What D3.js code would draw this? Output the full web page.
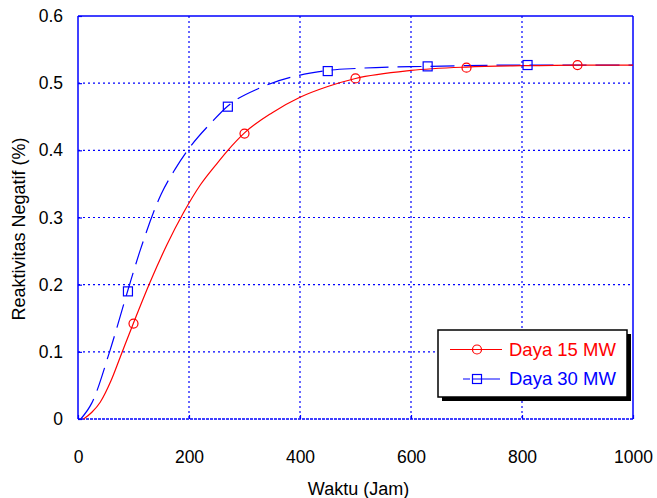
<!DOCTYPE html>
<html>
<head>
<meta charset="utf-8">
<script src="https://cdn.jsdelivr.net/npm/d3@7"></script>
<style>
  body { margin: 0; background: #fff; }
  text { font-family: Arial, "Liberation Sans", sans-serif; }
</style>
</head>
<body>
<script>
// values
var xTicks = [0, 200, 400, 600, 800, 1000];
var yTicks = [0, 0.1, 0.2, 0.3, 0.4, 0.5, 0.6];

// Daya 15 MW (red, solid)
var red15Jam = [10, 25, 40, 60, 76, 100, 130, 160, 190, 220, 250, 270, 300, 350, 400, 450, 500, 600, 700, 800, 900, 1000];
var red15Val = [0, 0.01, 0.025, 0.058, 0.092, 0.143, 0.204, 0.259, 0.307, 0.348, 0.38, 0.400, 0.426, 0.456, 0.479, 0.495, 0.507, 0.519, 0.524, 0.526, 0.527, 0.527];
var red15MarkJam = [100, 300, 500, 700, 900];
var red15MarkVal = [0.142, 0.425, 0.507, 0.523, 0.527];

// Daya 30 MW (blue, dashed)
var blue30Jam = [5, 25, 58, 90, 112, 150, 175, 202, 241, 270, 328, 418, 450, 503, 630, 810, 1000];
var blue30Val = [0, 0.024, 0.103, 0.192, 0.251, 0.335, 0.372, 0.405, 0.442, 0.466, 0.493, 0.515, 0.519, 0.522, 0.525, 0.527, 0.527];
var blue30MarkJam = [90, 270, 450, 630, 810];
var blue30MarkVal = [0.19, 0.465, 0.518, 0.525, 0.527];

var margin = {left: 78, top: 16, right: 24, bottom: 79};
var W = 657, H = 498;
var width = W - margin.left - margin.right,
    height = H - margin.top - margin.bottom;

var x = d3.scaleLinear().domain([0, 1000]).range([0, width]);
var y = d3.scaleLinear().domain([0, 0.6]).range([height, 0]);

var svg = d3.select("body").append("svg")
  .attr("width", W)
  .attr("height", H);

var g = svg.append("g")
  .attr("transform", "translate(" + margin.left + "," + margin.top + ")");

// grid
g.append("g").selectAll("line")
  .data(xTicks.slice(1, -1))
  .enter().append("line")
  .attr("x1", function (d) { return x(d); })
  .attr("x2", function (d) { return x(d); })
  .attr("y1", 0).attr("y2", height)
  .attr("stroke", "#0000ff").attr("stroke-width", 1.2)
  .attr("stroke-dasharray", "2,3");

g.append("g").selectAll("line")
  .data(yTicks.slice(1, -1))
  .enter().append("line")
  .attr("y1", function (d) { return y(d); })
  .attr("y2", function (d) { return y(d); })
  .attr("x1", 0).attr("x2", width)
  .attr("stroke", "#0000ff").attr("stroke-width", 1.2)
  .attr("stroke-dasharray", "2,3");

// axes (inner ticks, blue)
var xAxis = g.append("g")
  .attr("transform", "translate(0," + height + ")")
  .call(d3.axisBottom(x).tickValues(xTicks).tickSize(-4).tickPadding(32).tickFormat(d3.format("d")));
var yAxis = g.append("g")
  .call(d3.axisLeft(y).tickValues(yTicks).tickSize(-4).tickPadding(15).tickFormat(function (d) { return d === 0 ? "0" : d3.format(".1f")(d); }));

[xAxis, yAxis].forEach(function (a) {
  a.select(".domain").remove();
  a.selectAll(".tick line").attr("stroke", "#0000ff").attr("stroke-width", 1.2);
  a.selectAll(".tick text").attr("fill", "#000").style("font-size", "17.5px")
    .style("font-family", "Arial, 'Liberation Sans', sans-serif");
});

// frame
g.append("line").attr("x1", 0).attr("x2", 0).attr("y1", 0).attr("y2", height)
  .attr("stroke", "#0000ff").attr("stroke-width", 1.5);
g.append("line").attr("x1", 0).attr("x2", width).attr("y1", 0).attr("y2", 0)
  .attr("stroke", "#0000ff").attr("stroke-width", 1.5);
g.append("line").attr("x1", width).attr("x2", width).attr("y1", 0).attr("y2", height)
  .attr("stroke", "#0000ff").attr("stroke-width", 1.5);
g.append("line").attr("x1", 0).attr("x2", width).attr("y1", height).attr("y2", height)
  .attr("stroke", "#0000ff").attr("stroke-width", 1.5).attr("stroke-dasharray", "3,1");

// curves
var line = d3.line()
  .x(function (d) { return x(d[0]); })
  .y(function (d) { return y(d[1]); })
  .curve(d3.curveMonotoneX);

var redData = d3.zip(red15Jam, red15Val);
var blueData = d3.zip(blue30Jam, blue30Val);

g.append("path")
  .datum(blueData)
  .attr("d", line)
  .attr("fill", "none")
  .attr("stroke", "#0000ff")
  .attr("stroke-width", 1.2)
  .attr("stroke-dasharray", "24,9");

g.append("path")
  .datum(redData)
  .attr("d", line)
  .attr("fill", "none")
  .attr("stroke", "#ff0000")
  .attr("stroke-width", 1.2);

// markers
g.selectAll(".mk-red")
  .data(d3.zip(red15MarkJam, red15MarkVal))
  .enter().append("circle")
  .attr("class", "mk-red")
  .attr("cx", function (d) { return x(d[0]); })
  .attr("cy", function (d) { return y(d[1]); })
  .attr("r", 4.5)
  .attr("fill", "none")
  .attr("stroke", "#ff0000")
  .attr("stroke-width", 1.2);

g.selectAll(".mk-blue")
  .data(d3.zip(blue30MarkJam, blue30MarkVal))
  .enter().append("rect")
  .attr("class", "mk-blue")
  .attr("x", function (d) { return x(d[0]) - 4.5; })
  .attr("y", function (d) { return y(d[1]) - 4.5; })
  .attr("width", 9)
  .attr("height", 9)
  .attr("fill", "none")
  .attr("stroke", "#0000ff")
  .attr("stroke-width", 1.2);

// axis titles
svg.append("text")
  .attr("x", margin.left + width / 2 + 3)
  .attr("y", 495)
  .attr("text-anchor", "middle")
  .style("font-size", "18px")
  .text("Waktu (Jam)");

svg.append("text")
  .attr("transform", "translate(25,229) rotate(-90)")
  .attr("text-anchor", "middle")
  .style("font-size", "18px")
  .text("Reaktivitas Negatif (%)");

// legend
var leg = svg.append("g").attr("transform", "translate(438,330)");
leg.append("rect").attr("x", 4).attr("y", 4).attr("width", 189).attr("height", 67).attr("fill", "#000");
leg.append("rect").attr("x", 0).attr("y", 0).attr("width", 189).attr("height", 67)
  .attr("fill", "#fff").attr("stroke", "#000").attr("stroke-width", 1.5);

leg.append("line").attr("x1", 12).attr("x2", 64).attr("y1", 19.5).attr("y2", 19.5)
  .attr("stroke", "#ff0000").attr("stroke-width", 1.2);
leg.append("circle").attr("cx", 39).attr("cy", 19.5).attr("r", 4.5)
  .attr("fill", "none").attr("stroke", "#ff0000").attr("stroke-width", 1.2);
leg.append("text").attr("x", 71).attr("y", 26).attr("fill", "#ff0000")
  .style("font-size", "18.5px").text("Daya 15 MW");

leg.append("line").attr("x1", 25).attr("x2", 62).attr("y1", 49).attr("y2", 49)
  .attr("stroke", "#0000ff").attr("stroke-width", 1.2).attr("stroke-dasharray", "7,2,28");
leg.append("rect").attr("x", 34.5).attr("y", 44.5).attr("width", 9).attr("height", 9)
  .attr("fill", "none").attr("stroke", "#0000ff").attr("stroke-width", 1.2);
leg.append("text").attr("x", 71).attr("y", 55).attr("fill", "#0000ff")
  .style("font-size", "18.5px").text("Daya 30 MW");
</script>
</body>
</html>
